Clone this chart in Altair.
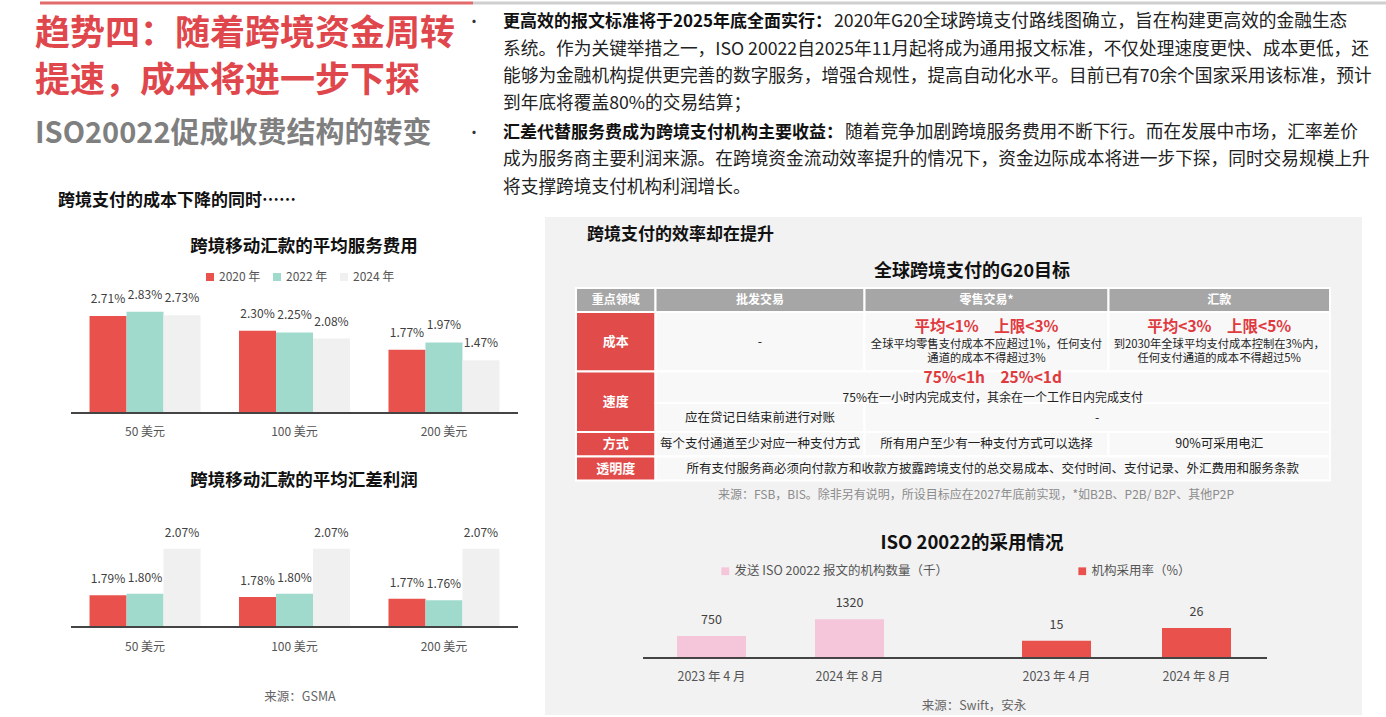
import altair as alt
import pandas as pd

FONT = "Noto Sans CJK SC"

# ---------------- data ----------------
amounts = ["50 美元", "100 美元", "200 美元"]
years = ["2020 年", "2022 年", "2024 年"]

# average service fee of cross-border mobile remittances (%)
fee_2020 = [2.71, 2.30, 1.77]
fee_2022 = [2.83, 2.25, 1.97]
fee_2024 = [2.73, 2.08, 1.47]

# average FX margin of cross-border mobile remittances (%)
fx_2020 = [1.79, 1.78, 1.77]
fx_2022 = [1.80, 1.80, 1.76]
fx_2024 = [2.07, 2.07, 2.07]

iso_periods = ["2023 年 4 月", "2024 年 8 月"]
iso_institutions = [750, 1320]      # thousand institutions
iso_adoption = [15, 26]             # adoption rate, %
iso_series = ["发送 ISO 20022 报文的机构数量（千）", "机构采用率（%）"]

title_lines = ["趋势四：随着跨境资金周转", "提速，成本将进一步下探"]
subtitle = "ISO20022促成收费结构的转变"
left_heading = "跨境支付的成本下降的同时……"
fee_title = "跨境移动汇款的平均服务费用"
fx_title = "跨境移动汇款的平均汇差利润"
left_source = "来源：GSMA"

para1_lead = "更高效的报文标准将于2025年底全面实行："
para1_lines = [
    "2020年G20全球跨境支付路线图确立，旨在构建更高效的金融生态",
    "系统。作为关键举措之一，ISO 20022自2025年11月起将成为通用报文标准，不仅处理速度更快、成本更低，还",
    "能够为金融机构提供更完善的数字服务，增强合规性，提高自动化水平。目前已有70余个国家采用该标准，预计",
    "到年底将覆盖80%的交易结算；",
]
para2_lead = "汇差代替服务费成为跨境支付机构主要收益："
para2_lines = [
    "随着竞争加剧跨境服务费用不断下行。而在发展中市场，汇率差价",
    "成为服务商主要利润来源。在跨境资金流动效率提升的情况下，资金边际成本将进一步下探，同时交易规模上升",
    "将支撑跨境支付机构利润增长。",
]

right_heading = "跨境支付的效率却在提升"
table_title = "全球跨境支付的G20目标"
table_header = ["重点领域", "批发交易", "零售交易*", "汇款"]
row_labels = ["成本", "速度", "方式", "透明度"]
cost_retail = ["平均<1%\u3000上限<3%", "全球平均零售支付成本不应超过1%，任何支付", "通道的成本不得超过3%"]
cost_remit = ["平均<3%\u3000上限<5%", "到2030年全球平均支付成本控制在3%内，", "任何支付通道的成本不得超过5%"]
speed_target = ["75%<1h\u300025%<1d", "75%在一小时内完成支付，其余在一个工作日内完成支付"]
speed_wholesale = "应在贷记日结束前进行对账"
access_row = ["每个支付通道至少对应一种支付方式", "所有用户至少有一种支付方式可以选择", "90%可采用电汇"]
transparency_row = "所有支付服务商必须向付款方和收款方披露跨境支付的总交易成本、交付时间、支付记录、外汇费用和服务条款"
table_source = "来源：FSB，BIS。除非另有说明，所设目标应在2027年底前实现，*如B2B、P2B/ B2P、其他P2P"
iso_title = "ISO 20022的采用情况"
iso_source = "来源：Swift，安永"

# ---------------- palette ----------------
RED = "#E8514C"
TEAL = "#9FDACD"
LIGHT = "#F0F0F0"
PINK = "#F5C6DA"
TITLE_RED = "#E0474C"
LABEL = "#404040"

ONE = alt.Data(values=[{"_": 0}])


def txt(s, x, y, size=12, color="#333333", weight="normal", align="center", dy=0):
    return (
        alt.Chart(ONE)
        .mark_text(text=s, fontSize=size, color=color, fontWeight=weight,
                   align=align, baseline="middle", font=FONT, dy=dy)
        .encode(x=alt.value(x), y=alt.value(y))
    )


def rule(x0, x1, y, color, width):
    return (
        alt.Chart(ONE)
        .mark_rule(color=color, strokeWidth=width)
        .encode(x=alt.value(x0), x2=alt.value(x1), y=alt.value(y))
    )


def grouped_bars(series, y_domain, y_range, x_range, cat_y, dy, legend):
    rows = []
    for yr, vals in zip(years, series):
        for a, v in zip(amounts, vals):
            rows.append({"amount": a, "year": yr, "v": v, "label": f"{v:.2f}%"})
    df = pd.DataFrame(rows)
    x = alt.X("amount:N", sort=amounts, axis=None,
              scale=alt.Scale(domain=amounts, range=x_range,
                              paddingInner=0.2575, paddingOuter=0.124))
    xo = alt.XOffset("year:N", sort=years, scale=alt.Scale(domain=years))
    y = alt.Y("v:Q", axis=None,
              scale=alt.Scale(domain=y_domain, range=y_range, zero=False, nice=False))
    color = alt.Color("year:N", sort=years,
                      scale=alt.Scale(domain=years, range=[RED, TEAL, LIGHT]),
                      legend=legend)
    bars = alt.Chart(df).mark_bar().encode(
        x=x, xOffset=xo, y=y, y2=alt.datum(y_domain[0]), color=color)
    labels = alt.Chart(df).mark_text(
        dy=dy, fontSize=12, color=LABEL, font=FONT, baseline="middle"
    ).encode(x=x, xOffset=xo, y=y, text="label:N")
    cats = alt.Chart(pd.DataFrame({"amount": amounts})).mark_text(
        fontSize=12, color="#555555", font=FONT, baseline="middle"
    ).encode(x=x, y=alt.value(cat_y), text="amount:N")
    base = rule(x_range[0], x_range[1], y_range[0], "#444444", 2)
    return alt.layer(bars, labels, cats, base)


def single_bars(values, name, colour, x_range, pad_inner, y_domain, y_range, legend_x):
    df = pd.DataFrame({"period": iso_periods, "v": values,
                       "series": [name] * len(values)})
    x = alt.X("period:N", sort=iso_periods, axis=None,
              scale=alt.Scale(domain=iso_periods, range=x_range,
                              paddingInner=pad_inner, paddingOuter=0.25))
    y = alt.Y("v:Q", axis=None,
              scale=alt.Scale(domain=y_domain, range=y_range, zero=True, nice=False))
    color = alt.Color("series:N", scale=alt.Scale(domain=[name], range=[colour]),
                      legend=alt.Legend(orient="none", legendX=legend_x, legendY=565,
                                        title=None, symbolType="square", symbolSize=60,
                                        symbolStrokeWidth=0, labelFontSize=12.5,
                                        labelColor="#555555", labelFont=FONT,
                                        labelLimit=400, labelOffset=3, padding=0))
    bars = alt.Chart(df).mark_bar().encode(x=x, y=y, color=color)
    labels = alt.Chart(df).mark_text(
        dy=-16, fontSize=12.5, color=LABEL, font=FONT, baseline="middle"
    ).encode(x=x, y=y, text="v:Q")
    cats = alt.Chart(df).mark_text(
        fontSize=12.5, color="#555555", font=FONT, baseline="middle"
    ).encode(x=x, y=alt.value(677), text="period:N")
    return alt.layer(bars, labels, cats)


layers = []

# top border
layers.append(rule(40, 473, 3, "#E26A6A", 3))
layers.append(rule(473, 1386, 3, "#CFCFCF", 3))

# headline block
layers.append(txt(title_lines[0], 35, 34, 35, TITLE_RED, "bold", "left"))
layers.append(txt(title_lines[1], 35, 81, 35, TITLE_RED, "bold", "left"))
layers.append(txt(subtitle, 35, 134, 29, "#7F7F7F", "bold", "left"))
layers.append(txt(left_heading, 58, 201, 17, "#111111", "bold", "left"))

# commentary paragraphs
line_y = [22, 50, 77, 104, 133, 160, 188]
layers.append(txt("•", 474, line_y[0], 15, "#333333"))
layers.append(txt("•", 474, line_y[4], 15, "#333333"))
layers.append(txt(para1_lead, 503, line_y[0], 17, "#111111", "bold", "left"))
layers.append(txt(para1_lines[0], 834, line_y[0], 17.7, "#222222", "normal", "left"))
for ln, yy in zip(para1_lines[1:], line_y[1:4]):
    layers.append(txt(ln, 503, yy, 17.7, "#222222", "normal", "left"))
layers.append(txt(para2_lead, 503, line_y[4], 17, "#111111", "bold", "left"))
layers.append(txt(para2_lines[0], 845, line_y[4], 17.7, "#222222", "normal", "left"))
for ln, yy in zip(para2_lines[1:], line_y[5:]):
    layers.append(txt(ln, 503, yy, 17.7, "#222222", "normal", "left"))

# left: service fee chart
layers.append(txt(fee_title, 304, 247, 17.5, "#111111", "bold"))
fee_legend = alt.Legend(orient="none", legendX=204, legendY=271, direction="horizontal",
                        title=None, symbolType="square", symbolSize=64,
                        symbolStrokeWidth=0, labelFontSize=12, labelColor="#555555",
                        labelFont=FONT, columnPadding=10, labelOffset=3, padding=0)
layers.append(grouped_bars([fee_2020, fee_2022, fee_2024], [0, 3], [413, 305.6],
                           [71, 518], 432, -17, fee_legend))

# left: FX margin chart
layers.append(txt(fx_title, 304, 481, 17.5, "#111111", "bold"))
layers.append(grouped_bars([fx_2020, fx_2022, fx_2024], [1.6, 2.2], [627, 527],
                           [71, 518], 647, -16, None))
layers.append(txt(left_source, 300, 697, 12.5, "#666666"))

# right panel background
layers.append(alt.Chart(ONE).mark_rect(color="#F2F2F2").encode(
    x=alt.value(545), x2=alt.value(1362), y=alt.value(217), y2=alt.value(715)))
layers.append(txt(right_heading, 587, 235, 17, "#111111", "bold", "left"))
layers.append(txt(table_title, 972, 272, 18, "#111111", "bold"))

# G20 targets table
col_px = [576, 655.5, 864.5, 1108.5, 1330]
row_px = [288, 312, 371.5, 403, 432, 456.5, 480.5]
cells = pd.DataFrame(
    [(0, 1, 0, 1, "head"), (1, 2, 0, 1, "head"), (2, 3, 0, 1, "head"), (3, 4, 0, 1, "head"),
     (0, 1, 1, 2, "label"), (0, 1, 2, 4, "label"), (0, 1, 4, 5, "label"), (0, 1, 5, 6, "label"),
     (1, 2, 1, 2, "body"), (2, 3, 1, 2, "body"), (3, 4, 1, 2, "body"),
     (1, 4, 2, 3, "body"), (1, 2, 3, 4, "body"), (2, 4, 3, 4, "body"),
     (1, 2, 4, 5, "body"), (2, 3, 4, 5, "body"), (3, 4, 4, 5, "body"),
     (1, 4, 5, 6, "body")],
    columns=["c0", "c1", "r0", "r1", "kind"])
xs = alt.Scale(domain=[0, 1, 2, 3, 4], range=col_px, zero=False, nice=False)
ys = alt.Scale(domain=[0, 1, 2, 3, 4, 5, 6], range=row_px, zero=False, nice=False)
layers.append(alt.Chart(cells).mark_rect(stroke="white", strokeWidth=2).encode(
    x=alt.X("c0:Q", scale=xs, axis=None), x2="c1:Q",
    y=alt.Y("r0:Q", scale=ys, axis=None), y2="r1:Q",
    color=alt.Color("kind:N", legend=None,
                    scale=alt.Scale(domain=["head", "label", "body"],
                                    range=["#A6A6A6", "#E14C4A", "#F8F8F8"]))))


def cx(c0, c1):
    return (col_px[c0] + col_px[c1]) / 2


def cy(r0, r1):
    return (row_px[r0] + row_px[r1]) / 2


for i, h in enumerate(table_header):
    layers.append(txt(h, cx(i, i + 1), cy(0, 1), 12, "white", "bold"))
for lab, (r0, r1) in zip(row_labels, [(1, 2), (2, 4), (4, 5), (5, 6)]):
    layers.append(txt(lab, cx(0, 1), cy(r0, r1), 13, "white", "bold"))

BODY = "#222222"
HL = "#E0393E"
layers.append(txt("-", cx(1, 2), cy(1, 2), 12.5, BODY))
for col, lines in ((2, cost_retail), (3, cost_remit)):
    layers.append(txt(lines[0], cx(col, col + 1), cy(1, 2), 15.5, HL, "bold", dy=-15))
    layers.append(txt(lines[1], cx(col, col + 1), cy(1, 2), 11.3, BODY, dy=3))
    layers.append(txt(lines[2], cx(col, col + 1), cy(1, 2), 11.3, BODY, dy=17))
layers.append(txt(speed_target[0], cx(1, 4), cy(2, 3), 15.5, HL, "bold", dy=-9.5))
layers.append(txt(speed_target[1], cx(1, 4), cy(2, 3), 12, BODY, dy=10.5))
layers.append(txt(speed_wholesale, cx(1, 2), cy(3, 4), 12.5, BODY))
layers.append(txt("-", cx(2, 4), cy(3, 4), 12.5, BODY))
for i, s in enumerate(access_row):
    layers.append(txt(s, cx(i + 1, i + 2), cy(4, 5), 12.5, BODY))
layers.append(txt(transparency_row, cx(1, 4), cy(5, 6), 12.5, BODY))
layers.append(txt(table_source, 976, 495, 12, "#8C8C8C"))

# ISO 20022 adoption
layers.append(txt(iso_title, 972, 543, 18.5, "#111111", "bold"))
layers.append(single_bars(iso_institutions, iso_series[0], PINK, [642.5, 918.5], 0.5,
                          [0, 1500], [658, 613.9], 719))
layers.append(single_bars(iso_adoption, iso_series[1], RED, [987, 1266], 0.507,
                          [0, 30], [658, 623.4], 1076))
layers.append(rule(643, 1267, 658, "#444444", 2))
layers.append(txt(iso_source, 974, 706, 12.5, "#666666"))

chart = (
    alt.layer(*layers)
    .resolve_scale(x="independent", y="independent", color="independent",
                   xOffset="independent")
    .properties(width=1386, height=717, padding=0, background="white",
                autosize=alt.AutoSizeParams(type="none"))
    .configure_view(stroke=None)
)

chart.save("out.html", embed_options={"renderer": "svg", "actions": False})
